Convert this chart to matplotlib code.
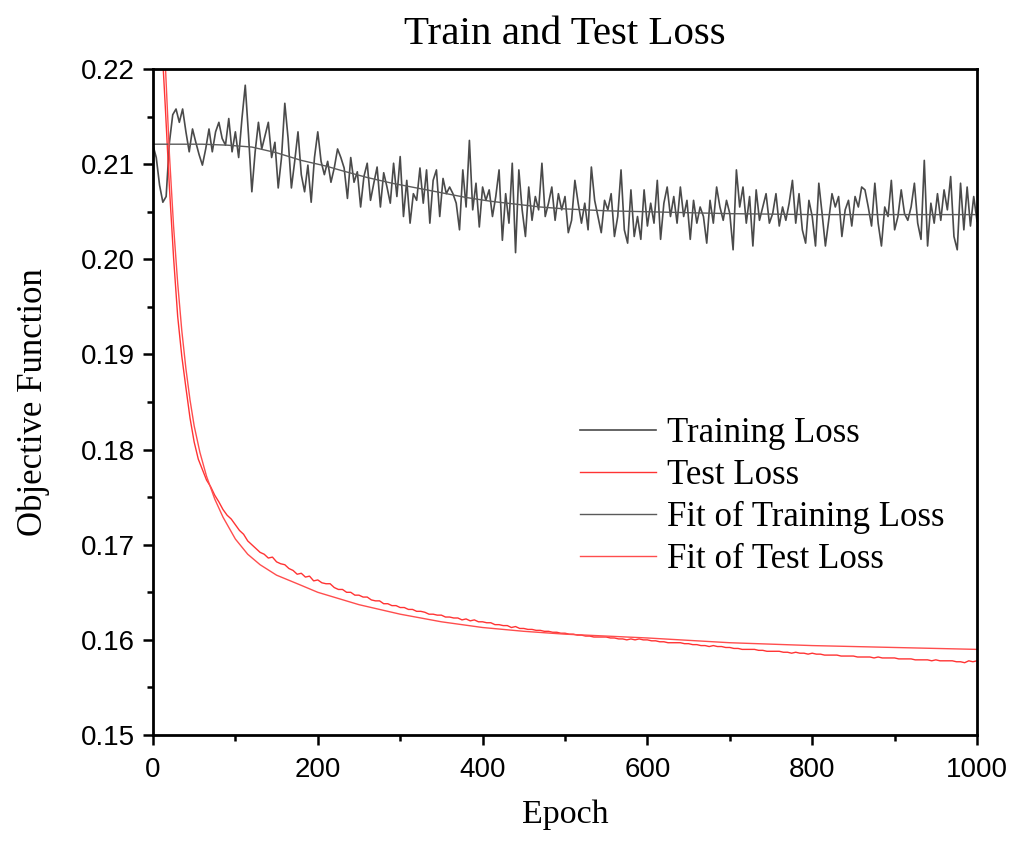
import numpy as np
import matplotlib
matplotlib.use("Agg")
import matplotlib.pyplot as plt

# training loss, sampled every 4 epochs
train_loss = [
    0.2120, 0.2107, 0.2078, 0.2060, 0.2066, 0.2123, 0.2152, 0.2158, 0.2144, 0.2158,
    0.2134, 0.2113, 0.2137, 0.2123, 0.2110, 0.2099, 0.2116, 0.2137, 0.2113, 0.2134,
    0.2144, 0.2127, 0.2120, 0.2148, 0.2113, 0.2134, 0.2107, 0.2148, 0.2183, 0.2130,
    0.2071, 0.2113, 0.2144, 0.2116, 0.2130, 0.2144, 0.2107, 0.2123, 0.2075, 0.2107,
    0.2164, 0.2127, 0.2075, 0.2103, 0.2134, 0.2089, 0.2071, 0.2099, 0.2060, 0.2107,
    0.2134, 0.2103, 0.2089, 0.2103, 0.2081, 0.2096, 0.2116, 0.2107, 0.2096, 0.2064,
    0.2107, 0.2081, 0.2092,
    0.2055, 0.2087, 0.2101, 0.2062, 0.2080, 0.2097, 0.2055, 0.2091, 0.2076, 0.2059,
    0.2101, 0.2066, 0.2108, 0.2045, 0.2083, 0.2038, 0.2069, 0.2062, 0.2096, 0.2059,
    0.2094, 0.2038, 0.2083, 0.2094, 0.2045, 0.2085, 0.2069, 0.2076, 0.2069, 0.2059,
    0.2031, 0.2094, 0.2055, 0.2125, 0.2052, 0.2080, 0.2034, 0.2076, 0.2062, 0.2073,
    0.2045, 0.2066, 0.2094, 0.2020, 0.2069, 0.2038, 0.2101, 0.2007, 0.2094, 0.2052,
    0.2024, 0.2076, 0.2041, 0.2066, 0.2052, 0.2101, 0.2045, 0.2059, 0.2076, 0.2041,
    0.2069, 0.2052, 0.2066,
    0.2028, 0.2041, 0.2083, 0.2059, 0.2038, 0.2059, 0.2031, 0.2097, 0.2062, 0.2045,
    0.2028, 0.2062, 0.2052, 0.2069, 0.2024, 0.2045, 0.2094, 0.2031, 0.2017, 0.2073,
    0.2024, 0.2045, 0.2021, 0.2073, 0.2035, 0.2059, 0.2038, 0.2083, 0.2021, 0.2059,
    0.2076, 0.2045, 0.2066, 0.2038, 0.2076, 0.2045, 0.2062, 0.2021, 0.2062, 0.2038,
    0.2055, 0.2045, 0.2017, 0.2062, 0.2038, 0.2076, 0.2055, 0.2041, 0.2062, 0.2048,
    0.2010, 0.2094, 0.2055, 0.2076, 0.2038, 0.2066, 0.2014, 0.2073, 0.2041, 0.2055,
    0.2069, 0.2038,
    0.2048, 0.2069, 0.2035, 0.2055, 0.2041, 0.2059, 0.2083, 0.2038, 0.2069, 0.2031,
    0.2017, 0.2062, 0.2045, 0.2014, 0.2080, 0.2048, 0.2014, 0.2041, 0.2069, 0.2055,
    0.2066, 0.2024, 0.2052, 0.2062, 0.2035, 0.2066, 0.2055, 0.2076, 0.2073, 0.2055,
    0.2035, 0.2080, 0.2038, 0.2014, 0.2055, 0.2045, 0.2083, 0.2031, 0.2045, 0.2073,
    0.2048, 0.2041, 0.2055, 0.2080, 0.2038, 0.2021, 0.2104, 0.2014, 0.2059, 0.2038,
    0.2069, 0.2041, 0.2073, 0.2052, 0.2087, 0.2024, 0.2010, 0.2080, 0.2031, 0.2076,
    0.2035, 0.2066, 0.2040,
]

# test loss, sampled every 5 epochs
test_loss = [
    0.2450, 0.2330, 0.2240, 0.2160, 0.2075, 0.2002, 0.1940, 0.1898, 0.1865, 0.1833,
    0.1808, 0.1790, 0.1779, 0.1768, 0.1761, 0.1752, 0.1745, 0.1737, 0.1731, 0.1727,
    0.1721, 0.1715, 0.1711, 0.1704, 0.1700, 0.1696, 0.1692, 0.1690, 0.1686, 0.1687,
    0.1682, 0.1680, 0.1679, 0.1675, 0.1673, 0.1669, 0.1670, 0.1666, 0.1667, 0.1662,
    0.1663, 0.1660, 0.1659, 0.1659, 0.1655, 0.1653, 0.1653, 0.1650, 0.1650, 0.1647,
    0.1647, 0.1645, 0.1645, 0.1642, 0.1641, 0.1641, 0.1638, 0.1638, 0.1636, 0.1636,
    0.1634, 0.1634, 0.1632, 0.1632, 0.1630, 0.1630, 0.1629, 0.1627, 0.1627, 0.1626,
    0.1626, 0.1624, 0.1624, 0.1623, 0.1623, 0.1621, 0.1622, 0.1620, 0.1621, 0.1619,
    0.1619, 0.1618, 0.1618, 0.1616, 0.1616, 0.1615, 0.1615, 0.1613, 0.1614, 0.1612,
    0.1612, 0.1611, 0.1611, 0.1610, 0.1610, 0.1609, 0.1609, 0.1608, 0.1608, 0.1607,
    0.1607, 0.1606, 0.1606, 0.1605, 0.1605, 0.1604, 0.1604, 0.1603, 0.1603, 0.1603,
    0.1603, 0.1602, 0.1602, 0.1601, 0.1601, 0.1600, 0.1601, 0.1600, 0.1601, 0.1600,
    0.1600, 0.1599, 0.1599, 0.1598, 0.1598, 0.1597, 0.1597, 0.1597, 0.1597, 0.1596,
    0.1596, 0.1595, 0.1595, 0.1594, 0.1594, 0.1593, 0.1594, 0.1593, 0.1593, 0.1592,
    0.1592, 0.1591, 0.1591, 0.1590, 0.1590, 0.1590, 0.1590, 0.1589, 0.1589, 0.1588,
    0.1588, 0.1588, 0.1588, 0.1587, 0.1587, 0.1586, 0.1587, 0.1586, 0.1586, 0.1585,
    0.1586, 0.1585, 0.1585, 0.1584, 0.1584, 0.1584, 0.1584, 0.1583, 0.1583, 0.1583,
    0.1583, 0.1582, 0.1582, 0.1582, 0.1582, 0.1581, 0.1582, 0.1581, 0.1581, 0.1581,
    0.1581, 0.1580, 0.1580, 0.1580, 0.1580, 0.1579, 0.1579, 0.1579, 0.1579, 0.1578,
    0.1579, 0.1578, 0.1578, 0.1578, 0.1578, 0.1577, 0.1577, 0.1576, 0.1578, 0.1577,
    0.1578,
]

# fitted curves
train_fit_epoch = [0, 60, 90, 120, 150, 180, 210, 230, 260, 290, 320, 350, 380,
                   410, 440, 470, 500, 550, 600, 700, 800, 1000]
train_fit = [0.2121, 0.2121, 0.2120, 0.2118, 0.2112, 0.2104, 0.2098, 0.2093,
             0.2086, 0.2080, 0.2075, 0.2070, 0.2065, 0.2061, 0.2058, 0.2055,
             0.2053, 0.2051, 0.2050, 0.2048, 0.2047, 0.2047]

test_fit_epoch = [0, 5, 10, 15, 20, 25, 30, 35, 40, 45, 50, 57, 65, 75, 85, 100,
                  115, 130, 150, 178, 200, 250, 300, 350, 400, 450, 500, 600,
                  700, 800, 900, 1000]
test_fit = [0.2620, 0.2460, 0.2320, 0.2205, 0.2110, 0.2035, 0.1975, 0.1925,
            0.1885, 0.1852, 0.1825, 0.1797, 0.1772, 0.1748, 0.1729, 0.1706,
            0.1690, 0.1679, 0.1668, 0.1658, 0.1650, 0.1637, 0.1627, 0.1619,
            0.1613, 0.1609, 0.1606, 0.1602, 0.1597, 0.1594, 0.1592, 0.1590]

train_epoch = np.linspace(0, 1000, len(train_loss))
test_epoch = np.linspace(0, 1000, len(test_loss))

serif = "Liberation Serif"
sans = "Liberation Sans"

fig = plt.figure(figsize=(10.17, 8.43), dpi=100)
ax = fig.add_axes([0.1504, 0.1281, 0.8103, 0.79])

ax.plot(train_epoch, train_loss, color="#4a4a4a", lw=1.2, label="Training Loss")
ax.plot(test_epoch, test_loss, color="#ff3333", lw=1.0, label="Test Loss")
ax.plot(train_fit_epoch, train_fit, color="#5a5a5a", lw=1.0, label="Fit of Training Loss")
ax.plot(test_fit_epoch, test_fit, color="#ff4d4d", lw=1.0, label="Fit of Test Loss")

ax.set_xlim(0, 1000)
ax.set_ylim(0.15, 0.22)
ax.set_xticks(np.arange(0, 1001, 200))
ax.set_xticks(np.arange(0, 1001, 100), minor=True)
ax.set_yticks(np.arange(0.15, 0.2201, 0.01))
ax.set_yticks(np.arange(0.15, 0.2201, 0.005), minor=True)
ax.set_yticklabels([f"{v:.2f}" for v in np.arange(0.15, 0.2201, 0.01)])

for s in ax.spines.values():
    s.set_linewidth(2.0)
ax.tick_params(which="both", direction="out", top=False, right=False, width=1.8)
ax.tick_params(which="major", length=7, labelsize=20, pad=6)
ax.tick_params(which="minor", length=4)
ax.tick_params(axis="x", which="major", pad=9)
for lab in ax.get_xticklabels() + ax.get_yticklabels():
    lab.set_fontfamily(sans)

ax.set_title("Train and Test Loss", fontfamily=serif, fontsize=29.5, pad=18)
ax.set_xlabel("Epoch", fontfamily=serif, fontsize=24.5, labelpad=12)
ax.set_ylabel("Objective Function", fontfamily=serif, fontsize=25, labelpad=22)

ax.legend(loc="upper left", bbox_to_anchor=(0.5703, 0.505), bbox_transform=fig.transFigure,
          frameon=False, prop={"family": serif, "size": 25}, handlelength=2.2,
          handletextpad=0.3, labelspacing=0.26, borderpad=0, borderaxespad=0)

fig.savefig("out.png", dpi=100)
